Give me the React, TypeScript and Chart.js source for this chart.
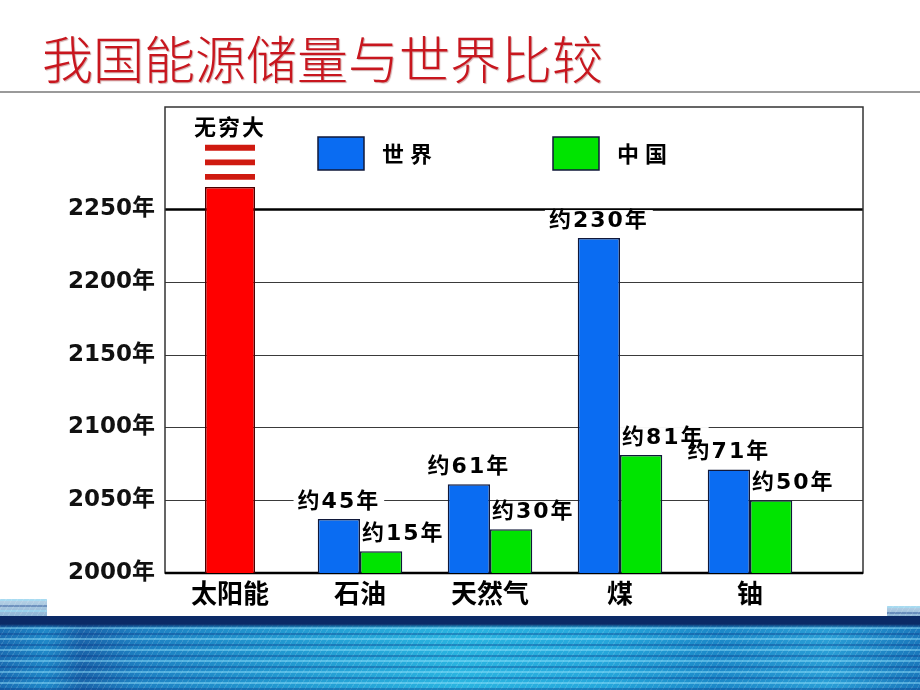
import React, { useEffect, useRef } from 'react';
import { Chart, registerables } from 'chart.js';

Chart.register(...registerables);

// ---- data ----
const categories = ['太阳能', '石油', '天然气', '煤', '铀'];
const seriesNames = ['世界', '中国'];
const worldYears = [null, 37, 61, 230, 71];
const chinaYears = [null, 15, 30, 81, 50];
const worldLabels = ['', '约45年', '约61年', '约230年', '约71年'];
const chinaLabels = ['', '约15年', '约30年', '约81年', '约50年'];
const solarYears = [265, null, null, null, null];
const solarStripes = [
  [270, 274],
  [280, 284],
  [290, 294],
];
const solarLabel = '无穷大';
const baseYear = 2000;
const yTickMax = 250;
const yMax = 320;
const yStep = 50;
const titleText = '我国能源储量与世界比较';

// ---- styles ----
const BLUE = '#0a6cf2';
const GREEN = '#00e400';
const RED = '#ff0000';
const STRIPE = '#cf1a10';
const EDGE = '#10183a';
const FRAME_RIGHT = 863;
const LABEL_FONT = 'bold 22px "DejaVu Sans", "Noto Sans CJK SC", sans-serif';
const LEGEND_FONT = 'bold 22px "Noto Sans CJK SC", sans-serif';

const framePlugin = {
  id: 'frameAndGrid',
  beforeDatasetsDraw(chart: any) {
    const { ctx, chartArea } = chart;
    const y = chart.scales.y;
    const L = chartArea.left;
    const T = chartArea.top;
    const B = chartArea.bottom;
    ctx.save();
    y.ticks.forEach((t: any) => {
      if (t.value === 0) return;
      const py = Math.round(y.getPixelForValue(t.value)) + 0.5;
      ctx.beginPath();
      ctx.strokeStyle = t.value === yTickMax ? '#000' : '#3a3a3a';
      ctx.lineWidth = t.value === yTickMax ? 2.5 : 1.2;
      ctx.moveTo(L, py);
      ctx.lineTo(FRAME_RIGHT, py);
      ctx.stroke();
    });
    ctx.strokeStyle = '#333';
    ctx.lineWidth = 1.5;
    ctx.strokeRect(L, T, FRAME_RIGHT - L, B - T);
    ctx.beginPath();
    ctx.strokeStyle = '#000';
    ctx.lineWidth = 2.5;
    ctx.moveTo(L, B);
    ctx.lineTo(FRAME_RIGHT, B);
    ctx.stroke();

    ctx.font = LABEL_FONT;
    (ctx as any).letterSpacing = '2px';
    const clear = (text: string, x: number, yy: number, align: string) => {
      const w = ctx.measureText(text).width;
      const left = align === 'center' ? x - w / 2 : x;
      ctx.fillStyle = '#fff';
      ctx.fillRect(left - 4, yy - 11, w + 8, 22);
    };
    chart.getDatasetMeta(0).data.forEach((bar: any, i: number) => {
      if (worldLabels[i]) clear(worldLabels[i], bar.x, bar.y - 17, 'center');
    });
    chart.getDatasetMeta(1).data.forEach((bar: any, i: number) => {
      if (chinaLabels[i]) clear(chinaLabels[i], bar.x - bar.width / 2 + 2, bar.y - 17, 'left');
    });
    ctx.restore();
  },
  afterDatasetsDraw(chart: any) {
    const { ctx, chartArea } = chart;
    ctx.save();
    ctx.font = LABEL_FONT;
    (ctx as any).letterSpacing = '2px';
    ctx.textBaseline = 'middle';
    ctx.textAlign = 'left';
    ctx.fillStyle = '#000';
    const put = (text: string, x: number, yy: number, align: string) => {
      const w = ctx.measureText(text).width;
      const left = align === 'center' ? x - w / 2 : x;
      ctx.fillText(text, left, yy);
    };
    chart.getDatasetMeta(0).data.forEach((bar: any, i: number) => {
      if (worldLabels[i]) put(worldLabels[i], bar.x, bar.y - 17, 'center');
    });
    chart.getDatasetMeta(1).data.forEach((bar: any, i: number) => {
      if (chinaLabels[i]) put(chinaLabels[i], bar.x - bar.width / 2 + 2, bar.y - 17, 'left');
    });
    const topStripeMeta = chart.getDatasetMeta(3 + solarStripes.length - 1);
    const sb = topStripeMeta.data[0];
    if (sb) put(solarLabel, sb.x, sb.y - 16, 'center');

    const colors = [BLUE, GREEN];
    const boxX = [chartArea.left + 153, chartArea.left + 388];
    const boxY = chartArea.top + 30;
    ctx.font = LEGEND_FONT;
    (ctx as any).letterSpacing = '6px';
    seriesNames.forEach((name, i) => {
      ctx.fillStyle = colors[i];
      ctx.fillRect(boxX[i], boxY, 46, 33);
      ctx.strokeStyle = EDGE;
      ctx.lineWidth = 1.5;
      ctx.strokeRect(boxX[i], boxY, 46, 33);
      ctx.fillStyle = '#000';
      ctx.fillText(name, boxX[i] + 64, boxY + 17);
    });
    ctx.restore();
  },
};

function App() {
  const ref = useRef<HTMLCanvasElement | null>(null);

  useEffect(() => {
    if (!ref.current) return;
    const stripeSets = solarStripes.map((range) => ({
      label: 'stripe',
      data: categories.map((_, i) => (i === 0 ? range : null)),
      backgroundColor: STRIPE,
      borderWidth: 0,
      grouped: false,
      categoryPercentage: 50 / 130,
      barPercentage: 1,
    }));
    const chart = new Chart(ref.current, {
      type: 'bar',
      data: {
        labels: categories,
        datasets: [
          {
            label: seriesNames[0],
            data: worldYears,
            backgroundColor: BLUE,
            borderColor: EDGE,
            borderWidth: 1.5,
            categoryPercentage: 0.65,
            barPercentage: 1,
          },
          {
            label: seriesNames[1],
            data: chinaYears,
            backgroundColor: GREEN,
            borderColor: EDGE,
            borderWidth: 1.5,
            categoryPercentage: 0.65,
            barPercentage: 1,
          },
          {
            label: '太阳能',
            data: solarYears,
            backgroundColor: RED,
            borderColor: '#4a0000',
            borderWidth: 1.5,
            grouped: false,
            categoryPercentage: 50 / 130,
            barPercentage: 1,
          },
          ...stripeSets,
        ] as any,
      },
      options: {
        animation: false,
        responsive: false,
        devicePixelRatio: 1,
        layout: { padding: { left: 0, top: 107, right: 105, bottom: 0 } },
        plugins: {
          legend: { display: false },
          tooltip: { enabled: false },
        },
        scales: {
          x: {
            grid: { display: false, drawTicks: false },
            border: { display: false },
            ticks: {
              color: '#000',
              padding: 5,
              font: { family: '"Noto Sans CJK SC", sans-serif', size: 26, weight: 'bold' },
            },
            afterFit: (scale: any) => {
              scale.height = 117;
            },
          },
          y: {
            min: 0,
            max: yMax,
            grid: { display: false, drawTicks: false },
            border: { display: false },
            ticks: {
              stepSize: yStep,
              color: '#111',
              padding: 10,
              font: { family: '"DejaVu Sans", "Noto Sans CJK SC", sans-serif', size: 23, weight: 'bold' },
              callback: (v: any) => `${baseYear + Number(v)}年`,
            },
            afterBuildTicks: (scale: any) => {
              scale.ticks = scale.ticks.filter((t: any) => t.value <= yTickMax);
            },
            afterFit: (scale: any) => {
              scale.width = 165;
            },
          },
        },
      } as any,
      plugins: [framePlugin],
    });
    return () => chart.destroy();
  }, []);

  const stripes =
    'repeating-linear-gradient(180deg, rgba(150,230,255,0.45) 0px, rgba(150,230,255,0.45) 2px, rgba(0,0,0,0) 2px, rgba(0,0,0,0) 6px, rgba(8,50,130,0.35) 6px, rgba(8,50,130,0.35) 8px, rgba(0,0,0,0) 8px, rgba(0,0,0,0) 11px)';
  const diag =
    'repeating-linear-gradient(120deg, rgba(255,255,255,0.12) 0px, rgba(255,255,255,0.12) 1px, rgba(0,0,0,0) 1px, rgba(0,0,0,0) 5px)';

  return (
    <div
      style={{
        position: 'fixed',
        left: 0,
        top: 0,
        width: 920,
        height: 690,
        background: '#fff',
        overflow: 'hidden',
      }}
    >
      <div
        style={{
          position: 'absolute',
          left: 0,
          top: 599,
          width: 47,
          height: 17,
          background: `${diag}, ${stripes}, linear-gradient(180deg, #b8d2e6, #8fb6d6)`,
        }}
      />
      <div
        style={{
          position: 'absolute',
          left: 887,
          top: 606,
          width: 33,
          height: 10,
          background: `${diag}, ${stripes}, linear-gradient(180deg, #b8d2e6, #8fb6d6)`,
        }}
      />
      <div
        style={{
          position: 'absolute',
          left: 0,
          top: 616,
          width: 920,
          height: 74,
          background: [
            'linear-gradient(180deg, #0b2a66 0px, #0b2a66 8px, rgba(11,42,102,0) 12px)',
            stripes,
            diag,
            'linear-gradient(90deg, #1a6cb2 0%, #1f88c8 5%, #1a64aa 9%, #1e80c2 15%, #2298d0 30%, #2ab4e0 50%, #26a8dc 65%, #1c88c8 78%, #2a9ed6 90%, #1a78bc 100%)',
          ].join(', '),
        }}
      />
      <div
        style={{
          position: 'absolute',
          left: 42,
          top: 29,
          fontFamily: '"Noto Sans CJK SC", sans-serif',
          fontSize: 51,
          fontWeight: 300,
          lineHeight: '56px',
          color: '#c8161e',
          whiteSpace: 'nowrap',
          textShadow: '1px 1px 1px rgba(120,0,0,0.35)',
        }}
      >
        {titleText}
      </div>
      <div
        style={{
          position: 'absolute',
          left: 0,
          top: 91,
          width: 920,
          height: 2,
          background: '#9a9a9a',
        }}
      />
      <canvas
        ref={ref}
        width={920}
        height={690}
        style={{ position: 'absolute', left: 0, top: 0, width: 920, height: 690 }}
      />
    </div>
  );
}

export default App;
